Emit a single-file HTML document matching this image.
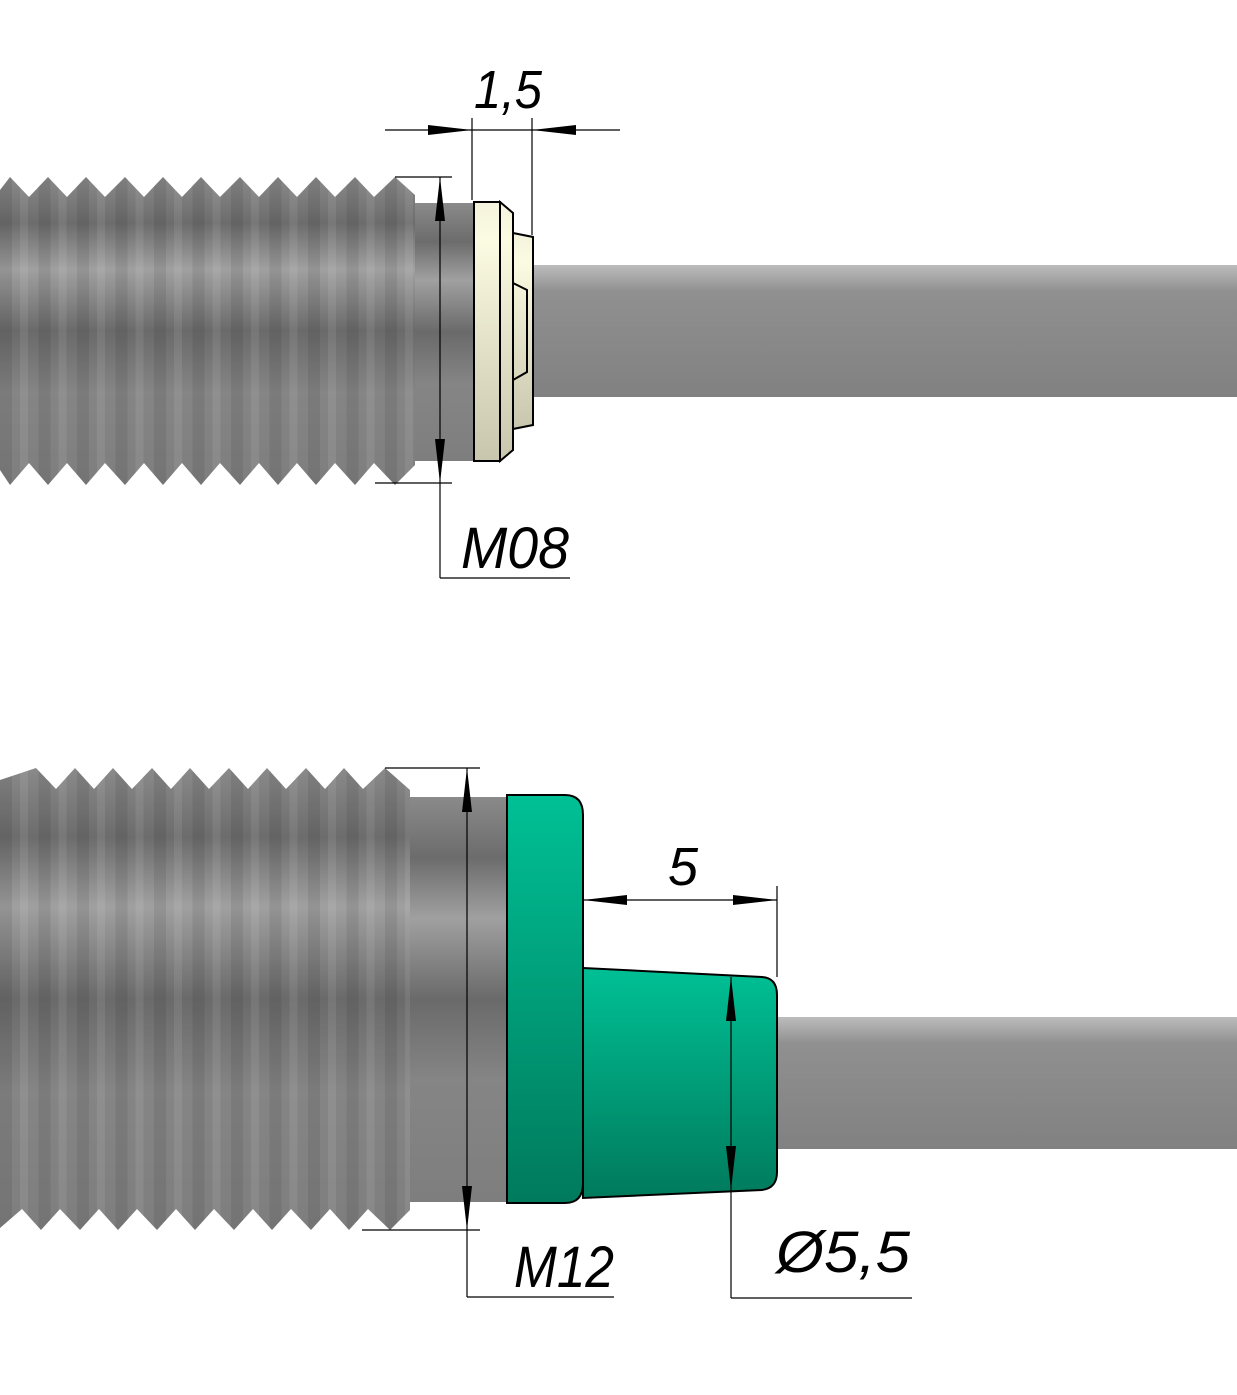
<!DOCTYPE html>
<html><head><meta charset="utf-8"><style>
html,body{margin:0;padding:0;background:#fff;}
svg{display:block;}
text{font-family:"Liberation Sans",sans-serif;font-style:italic;fill:#000;}
</style></head><body>
<svg width="1237" height="1395" viewBox="0 0 1237 1395" xmlns="http://www.w3.org/2000/svg">
<defs>
<linearGradient id="metal" x1="0" y1="0" x2="0" y2="1">
<stop offset="0" stop-color="#8a8a8a"/><stop offset="0.15" stop-color="#6c6c6c"/><stop offset="0.3" stop-color="#a0a0a0"/><stop offset="0.5" stop-color="#6a6a6a"/><stop offset="0.7" stop-color="#858585"/><stop offset="1" stop-color="#7e7e7e"/>
</linearGradient>
<linearGradient id="rod" x1="0" y1="0" x2="0" y2="1">
<stop offset="0" stop-color="#bcbcbc"/><stop offset="0.2" stop-color="#909090"/><stop offset="0.5" stop-color="#8a8a8a"/><stop offset="1" stop-color="#818181"/>
</linearGradient>
<linearGradient id="cream" x1="0" y1="0" x2="0" y2="1">
<stop offset="0" stop-color="#f4f2dc"/><stop offset="0.15" stop-color="#fbfbe2"/><stop offset="1" stop-color="#c8c6ac"/>
</linearGradient>
<linearGradient id="green" x1="0" y1="0" x2="0" y2="1">
<stop offset="0" stop-color="#00c095"/><stop offset="1" stop-color="#007a5c"/>
</linearGradient>
<pattern id="stripe" width="38.5" height="10" patternUnits="userSpaceOnUse">
<rect x="0" y="0" width="12" height="10" fill="#000" opacity="0.08"/>
<rect x="20" y="0" width="8" height="10" fill="#fff" opacity="0.08"/>
</pattern>
<clipPath id="c1"><path id="t1" d="M0,197 L0,190 L10,177 L29,197 L48,177 L67,197 L86,177 L105,197 L125,177 L144,197 L163,177 L182,197 L201,177 L220,197 L240,177 L259,197 L278,177 L297,197 L316,177 L335,197 L355,177 L374,197 L395,177 L415,195 L415,465 L395,485 L374,463 L355,485 L335,463 L316,485 L297,463 L278,485 L259,463 L240,485 L220,463 L201,485 L182,463 L163,485 L144,463 L125,485 L105,463 L86,485 L67,463 L48,485 L29,463 L10,485 L0,470 Z"/></clipPath>
<clipPath id="c2"><path id="t2" d="M0,789 L0,780 L36,768 L56,789 L75,768 L94,789 L113,768 L132,789 L152,768 L171,789 L190,768 L209,789 L229,768 L248,789 L267,768 L286,789 L306,768 L325,789 L344,768 L363,789 L385,768 L410,790 L410,1210 L390,1230 L368,1209 L349,1230 L330,1209 L311,1230 L291,1209 L272,1230 L253,1209 L234,1230 L214,1209 L195,1230 L176,1209 L157,1230 L137,1209 L118,1230 L99,1209 L80,1230 L60,1209 L41,1230 L22,1209 L0,1228 Z"/></clipPath>
</defs>

<!-- TOP -->
<rect x="533" y="265" width="704" height="132" fill="url(#rod)"/>
<use href="#t1" fill="url(#metal)"/>
<rect x="0" y="177" width="415" height="308" fill="url(#stripe)" clip-path="url(#c1)"/>
<rect x="415" y="203" width="60" height="258" fill="url(#metal)"/>
<path d="M513,233 L533,237 L533,425 L513,429 Z" fill="url(#cream)" stroke="#000" stroke-width="2"/>
<path d="M513,283 L527,290 L527,372 L513,380" fill="none" stroke="#000" stroke-width="2"/>
<path d="M500,202 L513,213 L513,450 L500,461 Z" fill="url(#cream)" stroke="#000" stroke-width="2"/>
<rect x="474" y="202" width="26" height="259" fill="url(#cream)" stroke="#000" stroke-width="2"/>

<g stroke="#000" stroke-width="1.2" fill="none">
<line x1="385" y1="130" x2="620" y2="130"/>
<line x1="472" y1="118" x2="472" y2="200"/>
<line x1="532" y1="118" x2="532" y2="235"/>
<line x1="395" y1="177" x2="452" y2="177"/>
<line x1="375" y1="483" x2="452" y2="483"/>
<line x1="440" y1="177" x2="440" y2="578"/>
<line x1="440" y1="578" x2="570" y2="578"/>
</g>
<g fill="#000">
<path d="M472,130 L428,125 L428,135 Z"/>
<path d="M532,130 L576,125 L576,135 Z"/>
<path d="M440,177 L435,221 L445,221 Z"/>
<path d="M440,483 L435,439 L445,439 Z"/>
</g>
<text x="474" y="108" font-size="54" textLength="68" lengthAdjust="spacingAndGlyphs">1,5</text>
<text x="461" y="568" font-size="58" textLength="108" lengthAdjust="spacingAndGlyphs">M08</text>

<!-- BOTTOM -->
<rect x="777" y="1017" width="460" height="132" fill="url(#rod)"/>
<use href="#t2" fill="url(#metal)"/>
<rect x="0" y="768" width="410" height="462" fill="url(#stripe)" clip-path="url(#c2)"/>
<rect x="410" y="797" width="97" height="405" fill="url(#metal)"/>
<path d="M583,968 L762,977 Q777,978 777,995 L777,1172 Q777,1188 762,1190 L583,1198 Z" fill="url(#green)" stroke="#000" stroke-width="2"/>
<path d="M507,795 L565,795 Q583,795 583,815 L583,1183 Q583,1203 565,1203 L507,1203 Z" fill="url(#green)" stroke="#000" stroke-width="2"/>

<g stroke="#000" stroke-width="1.2" fill="none">
<line x1="385" y1="768" x2="480" y2="768"/>
<line x1="362" y1="1230" x2="480" y2="1230"/>
<line x1="467" y1="768" x2="467" y2="1297"/>
<line x1="467" y1="1297" x2="614" y2="1297"/>
<line x1="583" y1="900" x2="777" y2="900"/>
<line x1="777" y1="886" x2="777" y2="977"/>
<line x1="731" y1="977" x2="731" y2="1298"/>
<line x1="731" y1="1298" x2="912" y2="1298"/>
</g>
<g fill="#000">
<path d="M467,768 L462,812 L472,812 Z"/>
<path d="M467,1230 L462,1186 L472,1186 Z"/>
<path d="M583,900 L627,895 L627,905 Z"/>
<path d="M777,900 L733,895 L733,905 Z"/>
<path d="M731,977 L726,1021 L736,1021 Z"/>
<path d="M731,1190 L726,1146 L736,1146 Z"/>
</g>
<text x="668" y="885" font-size="54">5</text>
<text x="514" y="1287" font-size="58" textLength="100" lengthAdjust="spacingAndGlyphs">M12</text>
<text x="776" y="1272" font-size="58" textLength="134" lengthAdjust="spacingAndGlyphs">Ø5,5</text>
</svg>
</body></html>
